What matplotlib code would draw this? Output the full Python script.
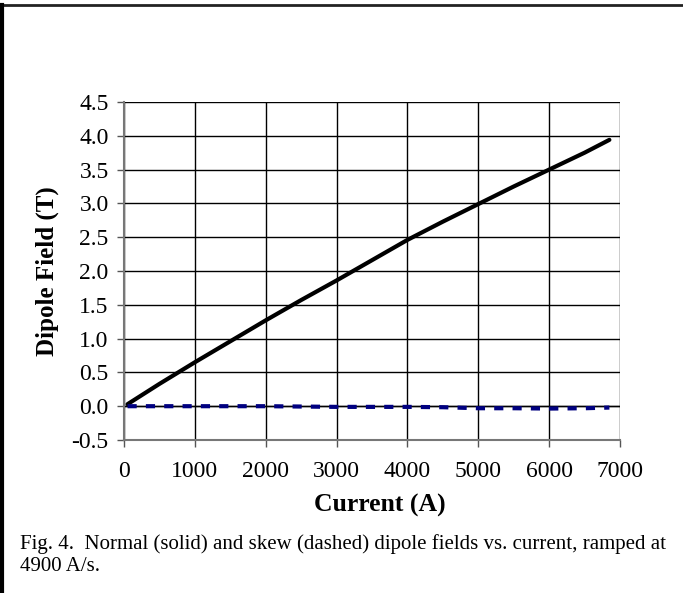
import matplotlib.pyplot as plt
from matplotlib.lines import Line2D
import numpy as np

plt.rcParams['font.family'] = ['Liberation Serif', 'DejaVu Serif']

current = [50, 500, 1000, 1500, 2000, 2500, 3000, 3500, 4000, 4500, 5000, 5500, 6000, 6500, 6850]
normal = [0.03, 0.33, 0.65, 0.96, 1.27, 1.57, 1.86, 2.16, 2.46, 2.73, 2.99, 3.25, 3.50, 3.75, 3.94]
skew = [0.0, 0.0, 0.0, 0.0, 0.0, -0.005, -0.01, -0.01, -0.01, -0.015, -0.03, -0.03, -0.035, -0.03, -0.02]

xticks = [0, 1000, 2000, 3000, 4000, 5000, 6000, 7000]
yticks = np.arange(-0.5, 4.51, 0.5)

fig = plt.figure(figsize=(6.83, 5.93), dpi=100)
ax = fig.add_axes([124/683, 1 - 440/593, (620 - 124)/683, (440 - 102)/593])

ax.plot(current, normal, color='black', lw=3, solid_capstyle='round', zorder=3)
ax.plot(current, skew, color='#000080', lw=3, dashes=(2.2, 2.2), zorder=3)

ax.set_xlim(0, 7000)
ax.set_ylim(-0.5, 4.5)
ax.set_xticks(xticks)
ax.set_yticks(yticks)
ax.set_yticklabels([f'{v:.1f}' for v in yticks])
ax.grid(True, color='black', lw=1)
ax.axhline(0, color='black', lw=1, zorder=2)
ax.tick_params(direction='out', length=5, width=1, color='#555555', labelsize=17, pad=6)
ax.tick_params(axis='x', pad=10)
for s in ['top', 'right']:
    ax.spines[s].set_visible(False)
for s in ['left', 'bottom']:
    ax.spines[s].set_color('#777777')
    ax.spines[s].set_linewidth(1.5)

ax.set_xlabel('Current (A)', fontsize=18.5, fontweight='bold')
ax.xaxis.set_label_coords((380 - 124)/496, -(505 - 440)/338, transform=ax.transAxes)
ax.xaxis.label.set_va('center')
ax.set_ylabel('Dipole Field (T)', fontsize=18, fontweight='bold')
ax.yaxis.set_label_coords(-(124 - 47)/496, 0.5, transform=ax.transAxes)
ax.yaxis.label.set_va('center')

fig.text(20/683, 1 - 555/593, 'Fig. 4.  Normal (solid) and skew (dashed) dipole fields vs. current, ramped at\n4900 A/s.',
         fontsize=15, va='center', ha='left', linespacing=1.2)

# frame around the figure
fig.add_artist(Line2D([0, 1], [1 - 5/593, 1 - 5/593], transform=fig.transFigure, color='#222222', lw=2))
fig.add_artist(Line2D([1.5/683, 1.5/683], [0, 1 - 5/593], transform=fig.transFigure, color='black', lw=3))

fig.savefig('out.png', dpi=100)
